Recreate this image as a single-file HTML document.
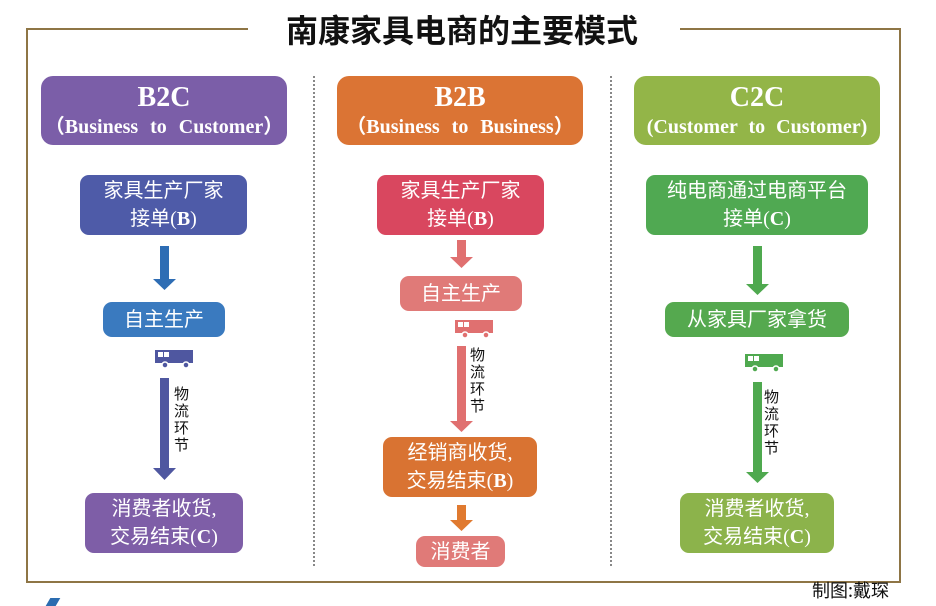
<!DOCTYPE html>
<html><head><meta charset="utf-8"><style>
body{margin:0;width:936px;height:605px;background:#fff;position:relative;overflow:hidden;font-family:"Liberation Sans","Noto Sans CJK SC",sans-serif}
.a{position:absolute}
.box{position:absolute;color:#fff;text-align:center;border-radius:9px;box-sizing:border-box;font-family:"Liberation Serif","Noto Sans CJK SC",serif}
.hd{border-radius:12px}
.hd .t{font-size:28px;font-weight:bold;line-height:32px;margin-top:6px}
.hd .s{font-size:20px;font-weight:bold;line-height:26px;word-spacing:7px;white-space:nowrap}
.n{font-size:20px;line-height:28px;display:flex;flex-direction:column;justify-content:center}
.n b{font-family:"Liberation Serif",serif}
.v{position:absolute;font-size:15px;line-height:17px;width:16px;color:#111;font-family:"Noto Sans CJK SC",sans-serif}
.dot{position:absolute;top:76px;height:490px;border-left:2px dotted #888;width:0}
</style></head><body>
<!-- frame -->
<div class="a" style="left:26px;top:28px;width:222px;height:2px;background:#8e7545"></div>
<div class="a" style="left:680px;top:28px;width:221px;height:2px;background:#8e7545"></div>
<div class="a" style="left:26px;top:28px;width:2px;height:555px;background:#8e7545"></div>
<div class="a" style="left:899px;top:28px;width:2px;height:555px;background:#8e7545"></div>
<div class="a" style="left:26px;top:581px;width:875px;height:2px;background:#8e7545"></div>
<div class="a" style="left:262px;top:8px;width:400px;text-align:center;font-size:32px;font-weight:bold;line-height:42px;color:#111;font-family:'Noto Sans CJK SC',sans-serif">南康家具电商的主要模式</div>
<div class="a" style="left:812px;top:578px;font-size:18px;line-height:24px;color:#111;font-family:'Noto Sans CJK SC',sans-serif">制图:戴琛</div>
<div class="a" style="left:48px;top:598px;width:10px;height:8px;background:#2b6cb0;transform:skewX(-30deg)"></div>
<div class="dot" style="left:313px"></div>
<div class="dot" style="left:610px"></div>

<!-- headers -->
<div class="box hd" style="left:41px;top:76px;width:246px;height:69px;background:#7b5ea8"><div class="t">B2C</div><div class="s">（Business to Customer）</div></div>
<div class="box hd" style="left:337px;top:76px;width:246px;height:69px;background:#db7434"><div class="t">B2B</div><div class="s">（Business to Business）</div></div>
<div class="box hd" style="left:634px;top:76px;width:246px;height:69px;background:#93b548"><div class="t">C2C</div><div class="s" style="word-spacing:6px">(Customer to Customer)</div></div>

<!-- B2C -->
<div class="box n" style="left:80px;top:175px;width:167px;height:60px;background:#4e5ba8"><div>家具生产厂家</div><div>接单(<b>B</b>)</div></div>
<div class="box n" style="left:103px;top:302px;width:122px;height:35px;background:#3a7abf"><div>自主生产</div></div>
<div class="box n" style="left:85px;top:493px;width:158px;height:60px;background:#7e5ea7"><div>消费者收货,</div><div>交易结束(<b>C</b>)</div></div>
<!-- B2B -->
<div class="box n" style="left:377px;top:175px;width:167px;height:60px;background:#d9475f"><div>家具生产厂家</div><div>接单(<b>B</b>)</div></div>
<div class="box n" style="left:400px;top:276px;width:122px;height:35px;background:#e07a78"><div>自主生产</div></div>
<div class="box n" style="left:383px;top:437px;width:154px;height:60px;background:#d97332"><div>经销商收货,</div><div>交易结束(<b>B</b>)</div></div>
<div class="box n" style="left:416px;top:536px;width:89px;height:31px;background:#e07a78"><div>消费者</div></div>
<!-- C2C -->
<div class="box n" style="left:646px;top:175px;width:222px;height:60px;background:#50a952"><div>纯电商通过电商平台</div><div>接单(<b>C</b>)</div></div>
<div class="box n" style="left:665px;top:302px;width:184px;height:35px;background:#55a94f"><div>从家具厂家拿货</div></div>
<div class="box n" style="left:680px;top:493px;width:154px;height:60px;background:#8cb34b"><div>消费者收货,</div><div>交易结束(<b>C</b>)</div></div>

<svg class="a" style="left:0;top:0" width="936" height="605">
<defs><g id="truck"><rect x="0" y="0" width="38" height="13" fill="currentColor"/><rect x="3" y="2" width="5" height="5" fill="#fff"/><rect x="9" y="2" width="5" height="5" fill="#fff"/><circle cx="10" cy="15" r="3" fill="currentColor" stroke="#fff" stroke-width="1.5"/><circle cx="31" cy="15" r="3" fill="currentColor" stroke="#fff" stroke-width="1.5"/></g></defs>
<polygon points="160,246 169,246 169,279 176,279 164.5,290 153,279 160,279" fill="#2e6db4"/>
<g style="color:#4f57a0" transform="translate(155,350)"><use href="#truck"/></g>
<polygon points="160,378 169,378 169,468 176,468 164.5,480 153,468 160,468" fill="#4f57a0"/>
<polygon points="457,240 466,240 466,257 473,257 461.5,268 450,257 457,257" fill="#e07070"/>
<g style="color:#e07070" transform="translate(455,320)"><use href="#truck"/></g>
<polygon points="457,346 466,346 466,421 473,421 461.5,432 450,421 457,421" fill="#e07070"/>
<polygon points="457,505 466,505 466,520 473,520 461.5,531 450,520 457,520" fill="#e07a30"/>
<polygon points="753,246 762,246 762,284 769,284 757.5,295 746,284 753,284" fill="#4fa94f"/>
<g style="color:#4fa94f" transform="translate(745,354)"><use href="#truck"/></g>
<polygon points="753,382 762,382 762,472 769,472 757.5,483 746,472 753,472" fill="#4fa94f"/>
</svg>
<div class="v" style="left:174px;top:385px">物流环节</div>
<div class="v" style="left:470px;top:346px">物流环节</div>
<div class="v" style="left:764px;top:388px">物流环节</div>
</body></html>
